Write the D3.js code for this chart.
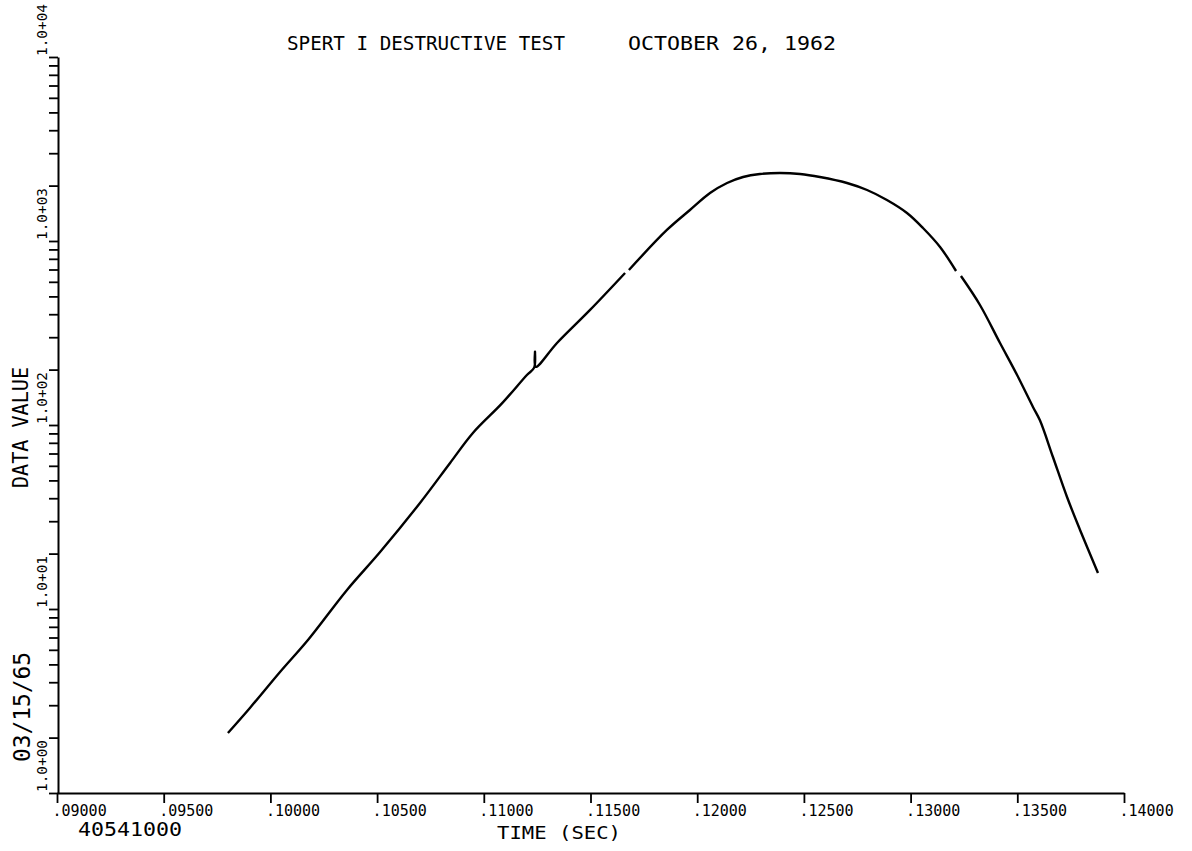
<!DOCTYPE html>
<html>
<head>
<meta charset="utf-8">
<script src="https://cdn.jsdelivr.net/npm/d3@7"></script>
<style>
  html, body { margin: 0; padding: 0; background: #fff; }
  svg { display: block; }
  text { font-family: "DejaVu Sans Mono", "Liberation Mono", monospace; fill: #000; }
</style>
</head>
<body>
<svg id="chart" width="1192" height="851"></svg>
<script>
// Plot annotations
const titleLeft = "SPERT I DESTRUCTIVE TEST";
const titleRight = "OCTOBER 26, 1962";
const xAxisTitle = "TIME (SEC)";
const yAxisTitle = "DATA VALUE";
const runDate = "03/15/65";
const channelId = "40541000";

// Axis ticks
const xTicks = [0.090, 0.095, 0.100, 0.105, 0.110, 0.115, 0.120, 0.125, 0.130, 0.135, 0.140];
const xTickLabels = [".09000", ".09500", ".10000", ".10500", ".11000", ".11500", ".12000", ".12500", ".13000", ".13500", ".14000"];
const yDecades = [1, 10, 100, 1000, 10000];
const yDecadeLabels = ["1.0+00", "1.0+01", "1.0+02", "1.0+03", "1.0+04"];

// Recorded trace: time (s) and data value; null marks a pen lift
const times = [
  0.09801, 0.09904, 0.10045, 0.10176, 0.10359, 0.10514, 0.10701, 0.10842, 0.10949, 0.11085,
  0.11202, 0.11236, 0.11240, 0.11243, 0.11343, 0.11498, 0.11662, 0.11671, 0.11680, 0.11858,
  0.11966, 0.12060, 0.12140, 0.12215, 0.12294, 0.12388, 0.12482, 0.12575, 0.12702, 0.12796,
  0.12889, 0.12983, 0.13058, 0.13138, 0.13213, 0.13224, 0.13236, 0.13325, 0.13419, 0.13499,
  0.13574, 0.13606, 0.13667, 0.13733, 0.13794, 0.13878
];
const values = [
  2.12, 2.90, 4.55, 6.79, 12.7, 20.4, 37.7, 62.2, 90.5, 131,
  187, 205, 250, 207, 279, 422, 670, null, 696, 1148,
  1474, 1823, 2067, 2228, 2313, 2342, 2313, 2228, 2067, 1893,
  1670, 1420, 1177, 928, 687, null, 645, 449, 279, 187,
  125, 106, 67, 40.6, 26.9, 15.7
];

const svg = d3.select("#chart");

const x = d3.scaleLinear().domain([0.09, 0.14]).range([57, 1124]);
const y = d3.scaleLog().domain([1, 10000]).range([793, 57]);

// Minor log ticks 1..9 within each decade, plus the top decade
const yTicks = [];
yDecades.slice(0, -1).forEach(d => { for (let m = 1; m <= 9; m++) yTicks.push(d * m); });
yTicks.push(yDecades[yDecades.length - 1]);

// Y axis
const yAxis = svg.append("g")
  .attr("transform", "translate(58,0)")
  .call(d3.axisLeft(y).tickValues(yTicks).tickSize(9).tickSizeOuter(0).tickFormat(""));
yAxis.select(".domain").attr("stroke", "#000").attr("stroke-width", 2);
yAxis.selectAll(".tick line").attr("stroke", "#000").attr("stroke-width", 1.8);

// Decade labels, rotated, reading upward from each decade line
svg.append("g").selectAll("text")
  .data(yDecades)
  .join("text")
  .attr("transform", d => `translate(47,${y(d) - 1}) rotate(-90)`)
  .attr("text-anchor", "start")
  .attr("font-size", 14)
  .attr("textLength", 52)
  .attr("lengthAdjust", "spacingAndGlyphs")
  .text((d, i) => yDecadeLabels[i]);

// X axis
const xAxis = svg.append("g")
  .attr("transform", "translate(0,793)")
  .call(d3.axisBottom(x).tickValues(xTicks).tickSize(10).tickSizeOuter(0)
    .tickFormat((d, i) => xTickLabels[i]));
xAxis.select(".domain").attr("stroke", "#000").attr("stroke-width", 2);
xAxis.selectAll(".tick line").attr("stroke", "#000").attr("stroke-width", 1.8);
xAxis.selectAll(".tick text")
  .attr("text-anchor", "start")
  .attr("x", -5)
  .attr("y", 23)
  .attr("dy", null)
  .attr("font-size", 15)
  .attr("font-family", "\"DejaVu Sans Mono\", monospace")
  .attr("fill", "#000");

// Trace
const line = d3.line()
  .defined(d => d[1] != null)
  .x(d => x(d[0]))
  .y(d => y(d[1]))
  .curve(d3.curveCatmullRom.alpha(0.5));

svg.append("path")
  .datum(times.map((t, i) => [t, values[i]]))
  .attr("fill", "none")
  .attr("stroke", "#000")
  .attr("stroke-width", 2.4)
  .attr("stroke-linejoin", "round")
  .attr("d", line);

// Titles and annotations
svg.append("text")
  .attr("x", 287).attr("y", 50)
  .attr("font-size", 19)
  .attr("textLength", 278).attr("lengthAdjust", "spacingAndGlyphs")
  .text(titleLeft);
svg.append("text")
  .attr("x", 628).attr("y", 50)
  .attr("font-size", 19)
  .attr("textLength", 208).attr("lengthAdjust", "spacingAndGlyphs")
  .text(titleRight);

svg.append("text")
  .attr("x", 497).attr("y", 839)
  .attr("font-size", 17)
  .attr("textLength", 124).attr("lengthAdjust", "spacingAndGlyphs")
  .text(xAxisTitle);

svg.append("text")
  .attr("x", 78).attr("y", 836)
  .attr("font-size", 19)
  .attr("textLength", 104).attr("lengthAdjust", "spacingAndGlyphs")
  .text(channelId);

svg.append("text")
  .attr("transform", "translate(28,488) rotate(-90)")
  .attr("font-size", 21)
  .attr("textLength", 121).attr("lengthAdjust", "spacingAndGlyphs")
  .text(yAxisTitle);

svg.append("text")
  .attr("transform", "translate(30,762) rotate(-90)")
  .attr("font-size", 23)
  .attr("textLength", 110).attr("lengthAdjust", "spacingAndGlyphs")
  .text(runDate);
</script>
</body>
</html>
